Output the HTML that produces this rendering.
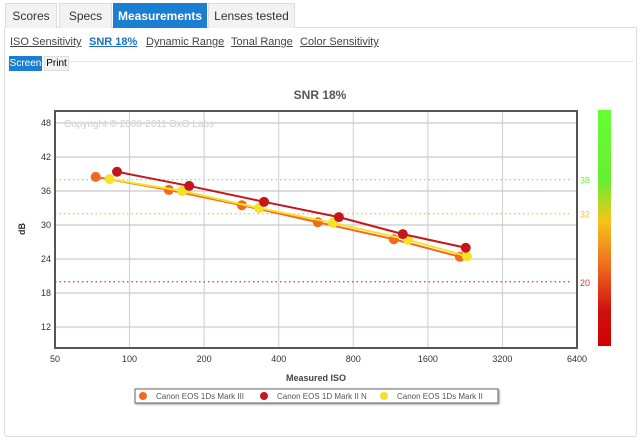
<!DOCTYPE html>
<html><head><meta charset="utf-8"><style>
body{margin:0;width:640px;height:441px;background:#fff;font-family:"Liberation Sans",sans-serif;position:relative;overflow:hidden}
.tab{position:absolute;top:3px;height:24px;line-height:24px;font-size:12px;color:#333;background:#f2f2f2;border:1px solid #ddd;border-bottom:none;text-align:center}
.panel{position:absolute;left:4px;top:27px;width:631px;height:408px;border:1px solid #ddd;border-radius:0 0 3px 3px}
.sub{position:absolute;top:36px;font-size:11px;color:#444;text-decoration:underline}
</style></head><body>
<div class="panel"></div>
<div class="tab" style="left:5px;width:50px">Scores</div>
<div class="tab" style="left:59px;width:51px">Specs</div>
<div class="tab" style="left:113px;width:92px;background:#1a7fd0;color:#fff;font-weight:bold;border-color:#1a7fd0">Measurements</div>
<div class="tab" style="left:208px;width:85px">Lenses tested</div>
<div class="sub" style="left:10px">ISO Sensitivity</div>
<div class="sub" style="left:89px;color:#1a6fc0;font-weight:bold">SNR 18%</div>
<div class="sub" style="left:146px">Dynamic Range</div>
<div class="sub" style="left:231px">Tonal Range</div>
<div class="sub" style="left:300px">Color Sensitivity</div>
<div style="position:absolute;left:9px;top:61px;width:625px;border-top:1px solid #e4e4e4"></div>
<div style="position:absolute;left:9px;top:56px;width:33px;height:15px;background:#1a7fd0;color:#fff;font-size:10px;line-height:15px;text-align:center">Screen</div>
<div style="position:absolute;left:44px;top:56px;width:25px;height:15px;background:#f2f2f2;border:1px solid #ddd;box-sizing:border-box;color:#000;font-size:10px;line-height:13px;text-align:center">Print</div>
<svg id="chart" width="640" height="441" style="position:absolute;left:0;top:0">
<defs><linearGradient id="cb" x1="0" y1="0" x2="0" y2="1">
<stop offset="0" stop-color="#66ff33"/><stop offset="0.3" stop-color="#66ee33"/><stop offset="0.47" stop-color="#f5c518"/><stop offset="0.65" stop-color="#f07020"/><stop offset="0.85" stop-color="#d01010"/><stop offset="1" stop-color="#d00000"/></linearGradient></defs>
</svg>
<script>
const isoTicks=[50,100,200,400,800,1600,3200,6400];
const dbTicks=[12,18,24,30,36,42,48];
const thresholds=[38,32,20];
const thresholdColors=['#77ee44','#f5c040','#dd3333'];
const seriesNames=['Canon EOS 1Ds Mark III','Canon EOS 1D Mark II N','Canon EOS 1Ds Mark II'];
const seriesColors=['#f36a1e','#c4161c','#f5e12a'];
const iso1=[73,144,284,575,1166,2155];
const db1=[38.5,36.2,33.5,30.5,27.5,24.4];
const iso2=[89,174,349,700,1268,2275];
const db2=[39.4,36.9,34.1,31.4,28.4,26.0];
const iso3=[83,163,333,662,1330,2300];
const db3=[38.1,36.0,33.0,30.4,27.4,24.5];
const L=55,R=577,T=111,B=348;
const x=v=>L+(Math.log2(v/50))/7*(R-L);
const y=v=>123+(48-v)*5.67;
const svg=document.getElementById('chart');const NS='http://www.w3.org/2000/svg';
function mk(t,a,p){const e=document.createElementNS(NS,t);for(const k in a)e.setAttribute(k,a[k]);(p||svg).appendChild(e);return e;}
let e;
e=mk('text',{x:320,y:99,'text-anchor':'middle','font-size':12,'font-weight':'bold',fill:'#555','font-family':'Liberation Sans'});e.textContent='SNR 18%';


e=mk('text',{x:64,y:127,'font-size':10,fill:'#ccc','font-family':'Liberation Sans'});e.textContent='Copyright © 2008-2011 DxO Labs';


dbTicks.forEach(v=>{
 e=mk('line',{x1:L,x2:R,y1:y(v),y2:y(v),stroke:'#ddd','stroke-width':2});
 
 
 e=mk('text',{x:51,y:y(v)+3,'text-anchor':'end','font-size':9,fill:'#333','font-family':'Liberation Sans'});e.textContent=v;
 
 
});
isoTicks.forEach(v=>{
 e=mk('line',{x1:x(v),x2:x(v),y1:T,y2:B,stroke:'#ccc','stroke-width':1});
 
 
 e=mk('text',{x:x(v),y:362,'text-anchor':'middle','font-size':9,fill:'#333','font-family':'Liberation Sans'});e.textContent=v;
 
 
});
thresholds.forEach((v,i)=>{
 e=mk('line',{x1:L,x2:572,y1:y(v),y2:y(v),stroke:thresholdColors[i],'stroke-width':1.2,'stroke-dasharray':'1.5,3'});
 
 
 e=mk('text',{x:580,y:y(v)+4,'font-size':9,fill:thresholdColors[i],'font-family':'Liberation Sans'});e.textContent=v;
 
 
});
e=mk('rect',{x:L,y:T,width:R-L,height:B-T,fill:'none',stroke:'#555','stroke-width':2});


e=mk('rect',{x:598,y:110,width:13,height:236,fill:'url(#cb)'});


const series=[[iso1,db1],[iso3,db3],[iso2,db2]];const cidx=[0,2,1];
series.forEach((s,k)=>{
 const c=seriesColors[cidx[k]];
 e=mk('polyline',{points:s[0].map((v,i)=>x(v)+','+y(s[1][i])).join(' '),fill:'none',stroke:c,'stroke-width':2});
 
 
 s[0].forEach((v,i)=>{
  e=mk('circle',{cx:x(v),cy:y(s[1][i]),r:5,fill:c});
  
  
 });
});
e=mk('text',{x:25,y:229,'text-anchor':'middle','font-size':9,'font-weight':'bold',fill:'#333',transform:'rotate(-90 25 229)','font-family':'Liberation Sans'});e.textContent='dB';


e=mk('text',{x:316,y:381,'text-anchor':'middle','font-size':9,'font-weight':'bold',fill:'#444','font-family':'Liberation Sans'});e.textContent='Measured ISO';


e=mk('rect',{x:135,y:389,width:363,height:14,fill:'#fff',stroke:'#666','stroke-width':1,style:'filter:drop-shadow(1px 1px 1px #999)'});


const lx=[143,264,384];
seriesNames.forEach((n,i)=>{
 e=mk('circle',{cx:lx[i],cy:396,r:4,fill:seriesColors[i]});
 
 
 e=mk('text',{x:lx[i]+13,y:399,'font-size':8,fill:'#555','font-family':'Liberation Sans'});e.textContent=n;
 
 
});
</script>
</body></html>
